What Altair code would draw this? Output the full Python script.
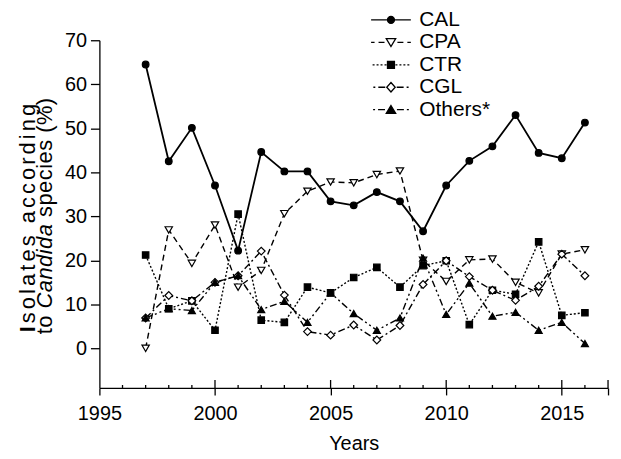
import altair as alt
import pandas as pd

# ---------------- data ----------------
years = list(range(1997, 2017))
series_names = ["CAL", "CPA", "CTR", "CGL", "Others*"]
CAL = [64.5, 42.5, 50.1, 37.0, 22.2, 44.6, 40.2, 40.2, 33.4, 32.5,
       35.5, 33.4, 26.6, 37.0, 42.6, 45.9, 53.0, 44.4, 43.2, 51.3]
CPA = [0.0, 26.9, 19.3, 28.0, 13.9, 17.7, 30.6, 35.7, 37.8, 37.6,
       39.5, 40.3, 20.0, 15.2, 20.1, 20.3, 15.0, 12.6, 21.4, 22.4]
CTR = [21.2, 9.0, 10.8, 4.1, 30.5, 6.4, 5.9, 13.9, 12.6, 16.1,
       18.4, 13.9, 18.8, 19.9, 5.4, 13.2, 12.3, 24.2, 7.5, 8.1]
CGL = [6.9, 12.0, 10.8, 15.0, 16.5, 22.1, 12.1, 3.8, 3.0, 5.3,
       1.9, 5.2, 14.5, 19.9, 16.3, 13.2, 10.9, 14.1, 21.4, 16.5]
OTH = [6.9, 9.0, 8.6, 15.0, 16.5, 8.8, 10.7, 5.9, 12.6, 7.9,
       4.1, 6.9, 20.5, 7.7, 14.8, 7.3, 8.2, 4.1, 5.9, 1.1]
y_ticks = [0, 10, 20, 30, 40, 50, 60, 70]
x_major = [1995, 2000, 2005, 2010, 2015, 2017]
x_major_inner = [2000, 2005, 2010, 2015, 2017]
x_minor = [y for y in range(1996, 2017) if y % 5 != 0]
title_line1 = "Isolates according"
title_line2 = "to Candida species (%)"
x_title = "Years"

rows = []
for name, vals in zip(series_names, [CAL, CPA, CTR, CGL, OTH]):
    for yr, v in zip(years, vals):
        rows.append({"year": yr, "value": v, "series": name})
df = pd.DataFrame(rows)

# ---------------- styling ----------------
W, H = 512, 350
FONT = "Liberation Sans"
styles = {
    "CAL": dict(dash=[], width=1.8, shape="circle", fill="black", size=45),
    "CPA": dict(dash=[6, 4], width=1.4, shape="triangle-down", fill="white", size=55),
    "CTR": dict(dash=[2, 2], width=1.4, shape="square", fill="black", size=42),
    "CGL": dict(dash=[7, 3, 2, 3], width=1.4, shape="diamond", fill="white", size=60),
    "Others*": dict(dash=[7, 3, 2, 3, 2, 3], width=1.4, shape="triangle-up", fill="black", size=50),
}

xscale = alt.Scale(domain=[1995, 2017], nice=False, zero=False)
yscale = alt.Scale(domain=[-9, 70], nice=False, zero=False)

x_axis = alt.Axis(
    values=x_major, format="d",
    labelExpr="datum.value == 2017 ? '' : datum.label",
    tickSize=7,
    title=x_title, titleFontSize=20, titleFontWeight="normal", titleFont=FONT,
    titleColor="black", titlePadding=10,
    labelFontSize=20, labelFont=FONT, labelColor="black", labelPadding=9,
    domainColor="black", tickColor="black", domainWidth=1.3, tickWidth=1.3,
    grid=False, labelFlush=False, labelOverlap=False,
)
y_axis = alt.Axis(
    values=y_ticks, title=None, tickSize=9,
    labelFontSize=20, labelFont=FONT, labelColor="black", labelPadding=4,
    domainColor="black", tickColor="black", domainWidth=1.3, tickWidth=1.3,
    grid=False,
)
X = alt.X("year:Q", scale=xscale, axis=x_axis)
Y = alt.Y("value:Q", scale=yscale, axis=y_axis)

base = alt.Chart(df)
layers = []
for name in series_names:
    st = styles[name]
    sub = base.transform_filter(alt.datum.series == name)
    line_kw = dict(color="black", strokeWidth=st["width"], strokeCap="butt")
    if st["dash"]:
        line_kw["strokeDash"] = st["dash"]
    layers.append(sub.mark_line(**line_kw).encode(x=X, y=Y))
for name in series_names:
    st = styles[name]
    sub = base.transform_filter(alt.datum.series == name)
    layers.append(
        sub.mark_point(shape=st["shape"], filled=True, fill=st["fill"], stroke="black",
                       strokeWidth=1.2, size=st["size"], opacity=1).encode(x=X, y=Y)
    )

# inward parts of the x-axis ticks (major ones cross the axis, minor ones point inward)
for vals, ln_px in [(x_major_inner, 8), (x_minor, 3)]:
    tdf = pd.DataFrame({"year": vals})
    layers.append(
        alt.Chart(tdf).mark_rule(color="black", strokeWidth=1.3).encode(
            x=X, y=alt.value(H), y2=alt.value(H - ln_px),
        )
    )

# ---------------- legend (line + marker symbols as custom paths) ----------------
UNIT = 5.0  # px per path unit when symbol size = 100
markers = {
    "CAL": "M0.7,0A0.7,0.7,0,1,1,-0.7,0A0.7,0.7,0,1,1,0.7,0Z",
    "CPA": "M-0.95,-0.75L0.95,-0.75L0,0.85Z",
    "CTR": "M-0.7,-0.7H0.7V0.7H-0.7Z",
    "CGL": "M0,-0.95L0.85,0L0,0.95L-0.85,0Z",
    "Others*": "M0,-0.85L0.95,0.75L-0.95,0.75Z",
}
marker_half = {"CAL": 0.7, "CPA": 0.9, "CTR": 0.7, "CGL": 0.85, "Others*": 0.9}


def legend_path(name, half=4.0):
    dash = [d / UNIT for d in styles[name]["dash"]]
    m = marker_half[name]
    segs = []
    if not dash:
        segs.append((m, half))
    else:
        pos, i, on = m + (dash[-1] / 2 if len(dash) > 1 else 0), 0, True
        while pos < half:
            ln = dash[i % len(dash)]
            end = min(pos + ln, half)
            if on:
                segs.append((pos, end))
            pos, on, i = end, not on, i + 1
    p = ""
    for a, b in segs:
        p += f"M{a:.3f},0H{b:.3f}M{-a:.3f},0H{-b:.3f}"
    return p + markers[name]


legend_paths = [legend_path(n) for n in series_names]
legend_fills = [styles[n]["fill"] for n in series_names]
legend_strokes = ["black"] * len(series_names)
leg = dict(title=None, orient="none", legendX=283, legendY=-31, symbolSize=100,
           labelOffset=18, rowPadding=0.6, padding=0, labelFont=FONT, labelFontSize=21,
           labelColor="black", symbolStrokeWidth=1.3, symbolStrokeColor="black",
           symbolOpacity=1)
layers.append(
    base.transform_filter("false").mark_point(
        size=100, strokeWidth=1.3, opacity=1, filled=True
    ).encode(
        x=X, y=Y,
        shape=alt.Shape("series:N", scale=alt.Scale(domain=series_names, range=legend_paths),
                        legend=alt.Legend(**leg)),
        fill=alt.Fill("series:N", scale=alt.Scale(domain=series_names, range=legend_fills),
                      legend=alt.Legend(**leg)),
        stroke=alt.Stroke("series:N", scale=alt.Scale(domain=series_names, range=legend_strokes),
                          legend=alt.Legend(**leg)),
    )
)

# ---------------- y title: justified two-line text with mixed styles ----------------
AW = {"I": 278, "s": 500, "o": 556, "l": 222, "a": 556, "t": 278, "e": 556, " ": 278,
      "c": 500, "r": 333, "d": 556, "i": 222, "n": 556, "g": 556, "C": 722, "p": 556,
      "(": 333, "%": 889, ")": 333}
FS = 22


def char_layout(text, bottom, top, fs):
    widths = [AW.get(c, 556) * fs / 1000.0 for c in text]
    extra = ((bottom - top) - sum(widths)) / (len(text) - 1)
    pos, out = bottom, []
    for c, w in zip(text, widths):
        out.append((c, pos - w / 2.0))
        pos -= w + extra
    return out


title_chars = []
for i, (c, yy) in enumerate(char_layout(title_line1, 294, 64, FS)):
    title_chars.append((c, -72, yy, "bold" if i == 0 else "normal", "normal"))
cand_start = title_line2.index("Candida")
for i, (c, yy) in enumerate(char_layout(title_line2, 296, 58, FS)):
    italic = cand_start <= i < cand_start + len("Candida")
    title_chars.append((c, -55, yy, "normal", "italic" if italic else "normal"))

for c, xx, yy, fw, fs in title_chars:
    if c == " ":
        continue
    tdf = pd.DataFrame({"t": [c]})
    layers.append(
        alt.Chart(tdf).mark_text(angle=270, align="center", baseline="middle", font=FONT,
                                 fontSize=FS, fontWeight=fw, fontStyle=fs, color="black")
        .encode(text="t:N", x=alt.value(xx), y=alt.value(yy))
    )

chart = alt.layer(*layers).properties(
    width=W, height=H,
    autosize=alt.AutoSizeParams(type="none"),
    padding={"left": 92, "top": 31, "right": 5, "bottom": 64},
).configure_view(strokeWidth=0)

chart.save("out.html", embed_options={"renderer": "svg", "actions": False})
